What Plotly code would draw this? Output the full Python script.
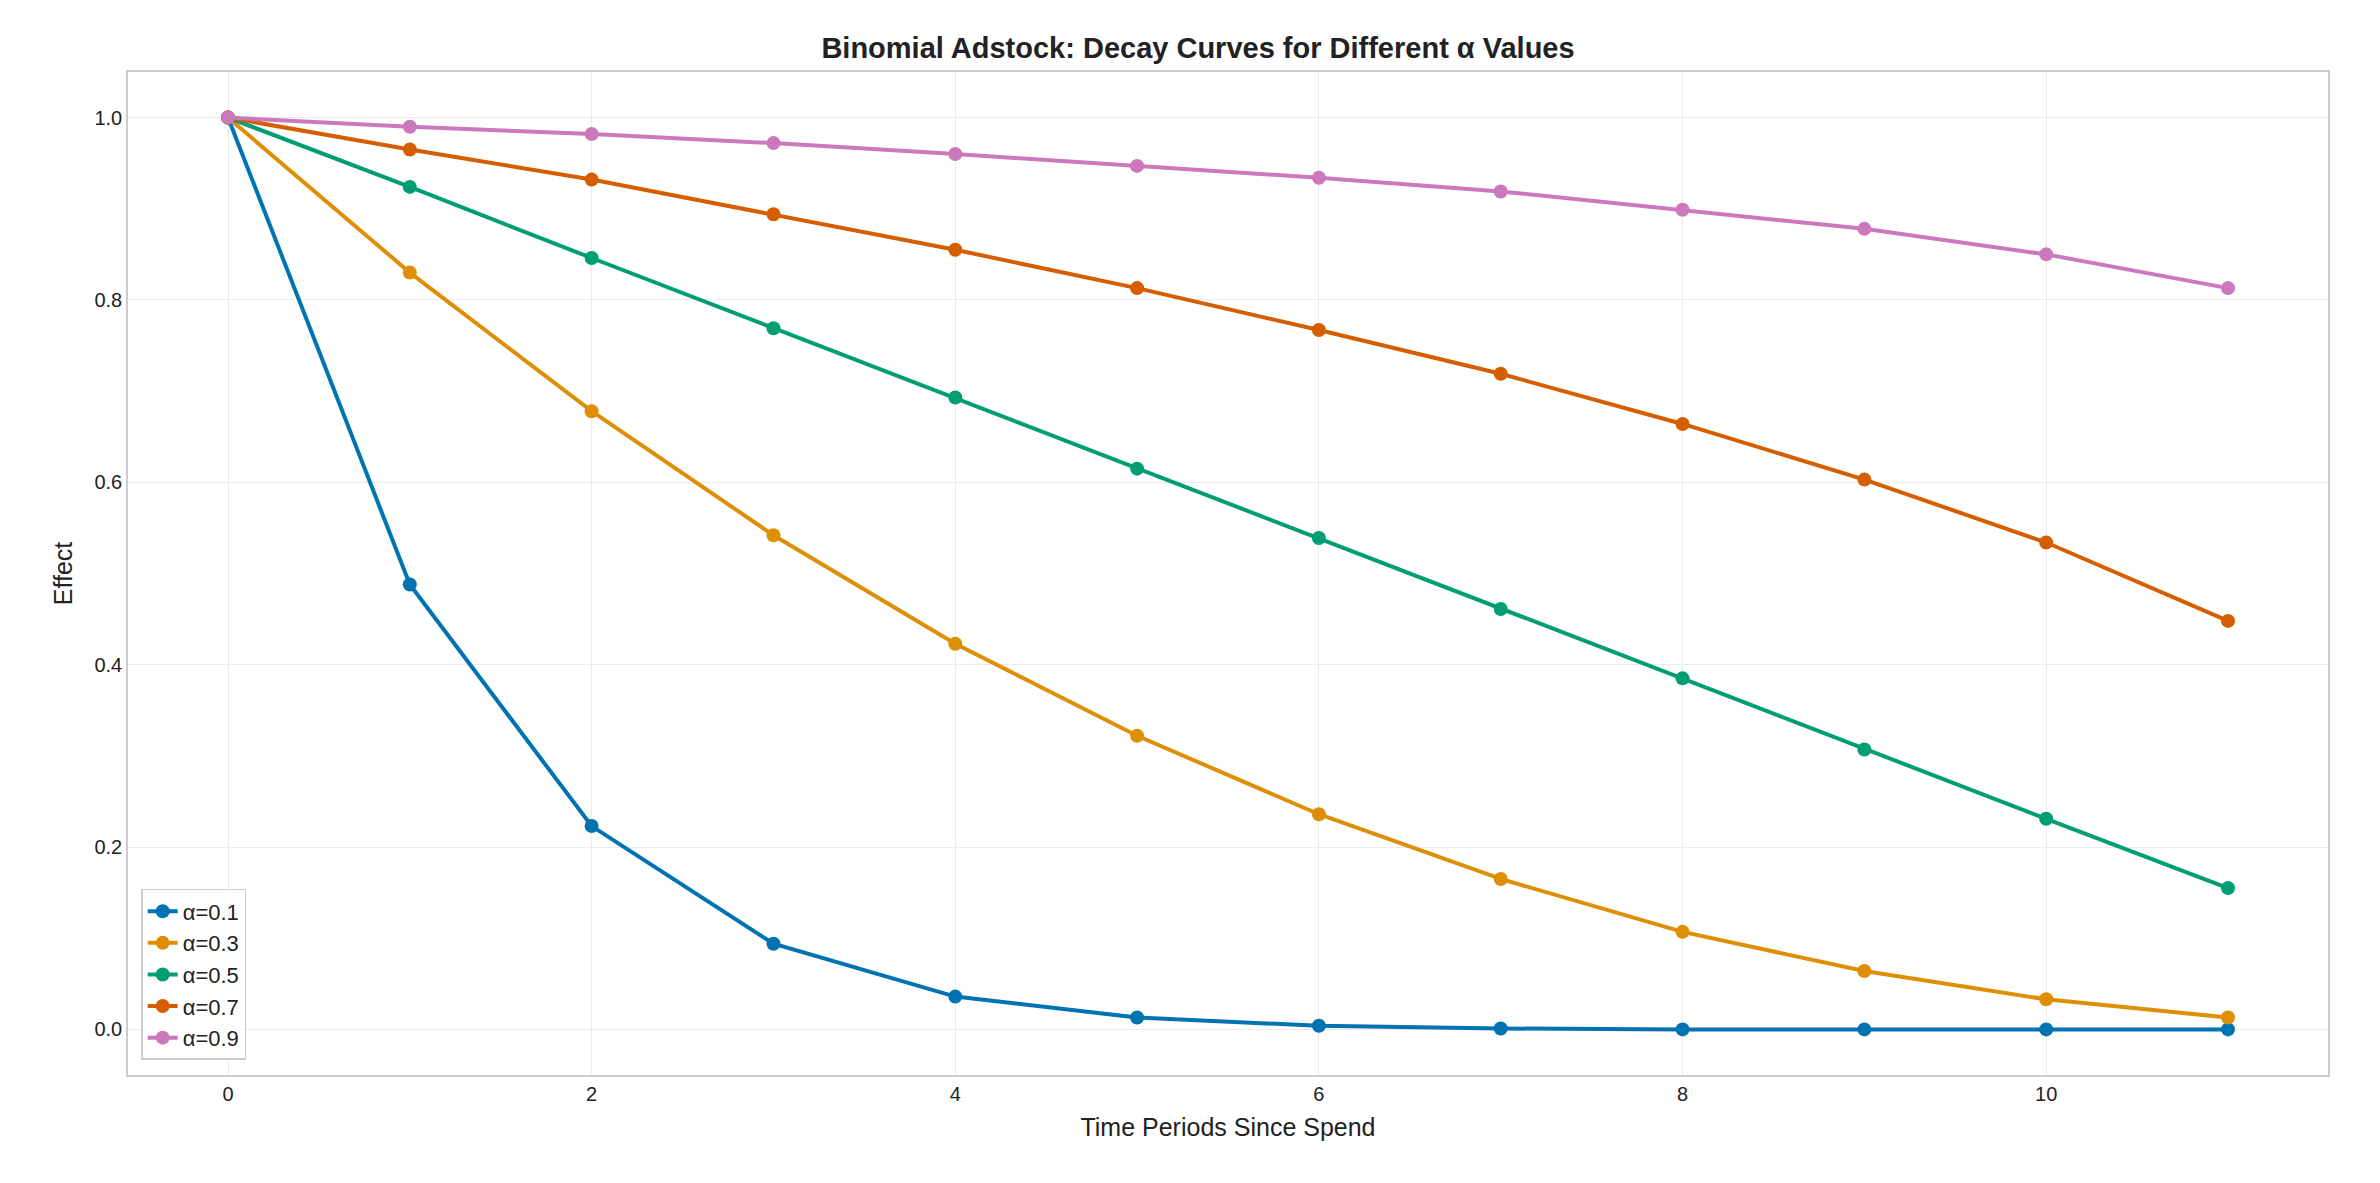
import plotly.graph_objects as go

# Data
periods = list(range(12))
alpha_labels = ['α=0.1', 'α=0.3', 'α=0.5', 'α=0.7', 'α=0.9']
effect_01 = [1.0, 0.488, 0.223, 0.094, 0.036, 0.013, 0.004, 0.001, 0.0, 0.0, 0.0, 0.0]
effect_03 = [1.0, 0.830, 0.678, 0.542, 0.423, 0.322, 0.236, 0.165, 0.107, 0.064, 0.033, 0.013]
effect_05 = [1.0, 0.924, 0.846, 0.769, 0.693, 0.615, 0.539, 0.461, 0.385, 0.307, 0.231, 0.155]
effect_07 = [1.0, 0.965, 0.932, 0.894, 0.855, 0.813, 0.767, 0.719, 0.664, 0.603, 0.534, 0.448]
effect_09 = [1.0, 0.990, 0.982, 0.972, 0.960, 0.947, 0.934, 0.919, 0.899, 0.878, 0.850, 0.813]
colors = ['#0173b2', '#de8f05', '#029e73', '#d55e00', '#cc78bc']

# ✅ Decay curves (Line Chart)
fig = go.Figure()
for label, values, color in zip(alpha_labels, [effect_01, effect_03, effect_05, effect_07, effect_09], colors):
    fig.add_trace(go.Scatter(x=periods, y=values, name=label, mode='lines+markers',
                             line=dict(color=color, width=4), marker=dict(size=14, color=color)))

fig.update_layout(
    title=dict(text='<b>Binomial Adstock: Decay Curves for Different α Values</b>', x=0.5, y=0.975,
               font=dict(size=29, color='#222222')),
    font=dict(family='Arial, Liberation Sans', size=20, color='#222222'),
    plot_bgcolor='white', paper_bgcolor='white',
    width=2380, height=1183, margin=dict(l=120, r=60, t=64, b=116),
    xaxis_title='Time Periods Since Spend', yaxis_title='Effect',
    legend=dict(x=0.006, y=0.015, xanchor='left', yanchor='bottom', bordercolor='#cccccc', borderwidth=1.5,
                font=dict(size=22), bgcolor='rgba(255,255,255,0.9)'),
)
fig.update_xaxes(range=[-0.55, 11.55], tickvals=[0, 2, 4, 6, 8, 10], showgrid=True, gridcolor='#ebebeb',
                 zeroline=False, showline=True, mirror=True, linecolor='#cccccc', linewidth=1.5,
                 title_font=dict(size=25), tickfont=dict(size=20))
fig.update_yaxes(range=[-0.05, 1.05], tickvals=[0, 0.2, 0.4, 0.6, 0.8, 1.0], tickformat='.1f', showgrid=True,
                 gridcolor='#ebebeb', zeroline=False, showline=True, mirror=True, linecolor='#cccccc', linewidth=1.5,
                 title_font=dict(size=25), tickfont=dict(size=20))
fig.write_html('out.html')
